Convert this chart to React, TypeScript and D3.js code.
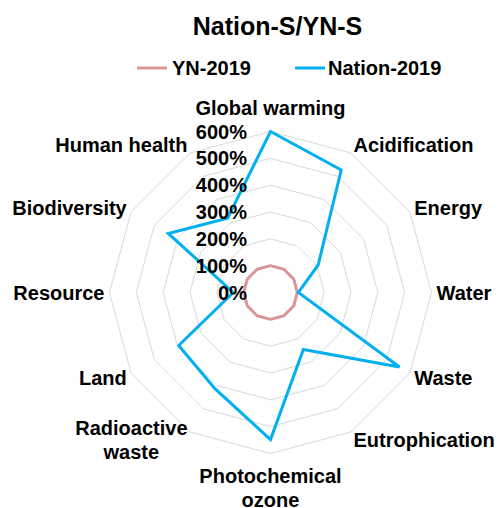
import React, { useEffect } from "react";
import * as d3 from "d3";

const axes = [
  ["Global warming"],
  ["Acidification"],
  ["Energy"],
  ["Water"],
  ["Waste"],
  ["Eutrophication"],
  ["Photochemical", "ozone"],
  ["Radioactive", "waste"],
  ["Land"],
  ["Resource"],
  ["Biodiversity"],
  ["Human health"],
];
const yn2019 = [100, 100, 100, 100, 100, 100, 100, 100, 100, 100, 100, 100];
const nation2019 = [600, 527, 205, 104, 555, 245, 548, 414, 395, 139, 440, 320];
const ticks = [0, 100, 200, 300, 400, 500, 600];
const seriesNames = ["YN-2019", "Nation-2019"];
const seriesColors = ["#d99694", "#00b0f0"];

const FONT = "'Liberation Sans', Arial, sans-serif";
const W = 500, H = 508;
const cx = 270.5, cy = 292.5, R = 161;

function textWidth(s: string, size: number) {
  const c = document.createElement("canvas").getContext("2d");
  if (!c) return s.length * size * 0.55;
  c.font = `bold ${size}px ${FONT}`;
  return c.measureText(s).width;
}

export default function App() {
  useEffect(() => {
    document.body.style.margin = "0";
  }, []);
  const r = d3.scaleLinear().domain([0, 600]).range([0, R]);
  const angle = (i: number) => (i * 2 * Math.PI) / axes.length;
  const line = d3
    .lineRadial<number>()
    .angle((_, i) => angle(i))
    .radius((d) => r(d))
    .curve(d3.curveLinearClosed);

  const labelEls: any[] = [];
  axes.forEach((lines, i) => {
    const a = angle(i);
    const s = Math.sin(a), c = Math.cos(a);
    const lx = cx + (R + 5) * s;
    let ly = cy - (R + 5) * c - 4 * c;
    const lh = 24;
    let anchor = "middle";
    let x = lx;
    if (Math.abs(s) < 0.01) {
      ly = c > 0 ? cy - R - 23.5 : cy + R + 22.5 + (lh * (lines.length - 1)) / 2;
    } else if (s > 0) {
      anchor = "start";
    } else {
      anchor = "end";
    }
    if (lines.length > 1 && Math.abs(s) >= 0.01) {
      const w = Math.max(...lines.map((t) => textWidth(t, 20)));
      x = anchor === "start" ? lx + w / 2 : lx - w / 2;
      anchor = "middle";
    }
    const top = ly - (lh * (lines.length - 1)) / 2;
    lines.forEach((t, k) => {
      labelEls.push(
        <text
          key={`${i}-${k}`}
          x={x}
          y={top + k * lh}
          textAnchor={anchor as any}
          dominantBaseline="central"
          fontSize={20}
          fontWeight="bold"
        >
          {t}
        </text>
      );
    });
  });

  return (
    <div style={{ position: "absolute", left: 0, top: 0 }}>
      <svg width={W} height={H} style={{ display: "block", fontFamily: FONT }}>
        <rect width={W} height={H} fill="#fff" />
        <text x={277.5} y={35} textAnchor="middle" fontSize={25} fontWeight="bold">
          Nation-S/YN-S
        </text>
        {/* legend */}
        <g>
          <line x1={137} x2={167} y1={68} y2={68} stroke={seriesColors[0]} strokeWidth={3} />
          <text x={172} y={68} dominantBaseline="central" fontSize={20} fontWeight="bold">
            {seriesNames[0]}
          </text>
          <line x1={295} x2={325} y1={68} y2={68} stroke={seriesColors[1]} strokeWidth={3} />
          <text x={328} y={68} dominantBaseline="central" fontSize={20} fontWeight="bold">
            {seriesNames[1]}
          </text>
        </g>
        <g transform={`translate(${cx},${cy})`}>
          {ticks.slice(1).map((t) => (
            <path
              key={t}
              d={line(axes.map(() => t)) || ""}
              fill="none"
              stroke="#d9d9d9"
              strokeWidth={1}
            />
          ))}
          <path d={line(yn2019) || ""} fill="none" stroke={seriesColors[0]} strokeWidth={3} strokeLinejoin="round" />
          <path d={line(nation2019) || ""} fill="none" stroke={seriesColors[1]} strokeWidth={3} strokeLinejoin="miter" />
        </g>
        {ticks.map((t) => (
          <text
            key={t}
            x={247}
            y={cy - r(t)}
            textAnchor="end"
            dominantBaseline="central"
            fontSize={20}
            fontWeight="bold"
          >
            {`${t}%`}
          </text>
        ))}
        {labelEls}
      </svg>
    </div>
  );
}
